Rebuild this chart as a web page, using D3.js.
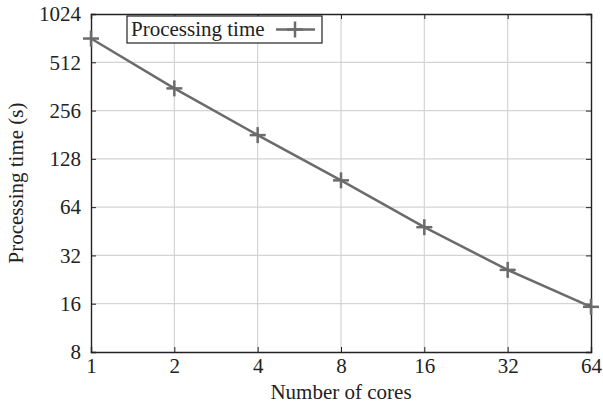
<!DOCTYPE html>
<html>
<head>
<meta charset="utf-8">
<script src="https://cdn.jsdelivr.net/npm/d3@7"></script>
<style>
  body { margin: 0; background: #fff; }
  text { font-family: "Liberation Serif", "DejaVu Serif", serif; fill: #222; }
</style>
</head>
<body>
<svg id="chart" width="603" height="406"></svg>
<script>
// values
var cores = [1, 2, 4, 8, 16, 32, 64];
var times = [720, 352, 180, 94, 48, 26, 15.3];
var xTicks = [1, 2, 4, 8, 16, 32, 64];
var yTicks = [8, 16, 32, 64, 128, 256, 512, 1024];
var seriesName = 'Processing time';

var W = 603, H = 406;
var m = {left: 91, right: 12, top: 14, bottom: 54};
var iw = W - m.left - m.right, ih = H - m.top - m.bottom;
var fs = '21px';

var svg = d3.select('#chart');
var g = svg.append('g').attr('transform', 'translate(' + m.left + ',' + m.top + ')');

var x = d3.scaleLog().base(2).domain([1, 64]).range([0, iw]);
var y = d3.scaleLog().base(2).domain([8, 1024]).range([ih, 0]);

// grid
g.append('g').selectAll('line').data(xTicks.slice(1, -1)).enter().append('line')
    .attr('x1', x).attr('x2', x).attr('y1', 0).attr('y2', ih)
    .attr('stroke', '#d4d4d4').attr('stroke-width', 1.2);
g.append('g').selectAll('line').data(yTicks.slice(1, -1)).enter().append('line')
    .attr('y1', y).attr('y2', y).attr('x1', 0).attr('x2', iw)
    .attr('stroke', '#d4d4d4').attr('stroke-width', 1.2);

// axes, ticks pointing inward
var fmt = function(d) { return d; };
var tl = 5;
var xa = g.append('g').attr('transform', 'translate(0,' + ih + ')')
    .call(d3.axisBottom(x).tickValues(xTicks).tickFormat(fmt).tickSize(-tl).tickPadding(6));
var xt = g.append('g')
    .call(d3.axisTop(x).tickValues(xTicks).tickFormat('').tickSize(-tl));
var ya = g.append('g')
    .call(d3.axisLeft(y).tickValues(yTicks).tickFormat(fmt).tickSize(-tl).tickPadding(10));
var yr = g.append('g').attr('transform', 'translate(' + iw + ',0)')
    .call(d3.axisRight(y).tickValues(yTicks).tickFormat('').tickSize(-tl));

[xa, xt, ya, yr].forEach(function(a) {
    a.select('.domain').attr('stroke', '#222').attr('stroke-width', 1.4);
    a.selectAll('.tick line').attr('stroke', '#222').attr('stroke-width', 1);
    a.selectAll('.tick text').style('font-family', '"Liberation Serif", serif')
        .style('font-size', fs).attr('fill', '#222');
});

// series
var pts = cores.map(function(c, i) { return [c, times[i]]; });
var lineCol = '#6b6b6b';
g.append('path').datum(pts)
    .attr('fill', 'none').attr('stroke', lineCol).attr('stroke-width', 2.5)
    .attr('d', d3.line().x(function(d) { return x(d[0]); }).y(function(d) { return y(d[1]); }));

function plus(sel, s) {
    sel.append('line').attr('x1', -s).attr('x2', s).attr('y1', 0).attr('y2', 0);
    sel.append('line').attr('y1', -s).attr('y2', s).attr('x1', 0).attr('x2', 0);
}
g.append('g').selectAll('g').data(pts).enter().append('g')
    .attr('transform', function(d) { return 'translate(' + x(d[0]) + ',' + y(d[1]) + ')'; })
    .attr('stroke', lineCol).attr('stroke-width', 2.5)
    .each(function() { plus(d3.select(this), 8); });

// legend
var lg = svg.append('g').attr('transform', 'translate(127,16)');
lg.append('rect').attr('width', 195).attr('height', 27)
    .attr('fill', '#fff').attr('stroke', '#222').attr('stroke-width', 1.2);
lg.append('text').attr('x', 4).attr('y', 20).style('font-size', fs).text(seriesName);
lg.append('line').attr('x1', 149).attr('x2', 188).attr('y1', 13.5).attr('y2', 13.5)
    .attr('stroke', lineCol).attr('stroke-width', 2.5);
lg.append('g').attr('transform', 'translate(168,13.5)')
    .attr('stroke', lineCol).attr('stroke-width', 2.5)
    .call(function(s) { plus(s, 8); });

// axis titles
svg.append('text').attr('x', m.left + iw / 2).attr('y', 399)
    .attr('text-anchor', 'middle').style('font-size', fs).text('Number of cores');
svg.append('text').attr('transform', 'translate(23,' + (m.top + ih / 2) + ') rotate(-90)')
    .attr('text-anchor', 'middle').style('font-size', fs).text('Processing time (s)');
</script>
</body>
</html>
